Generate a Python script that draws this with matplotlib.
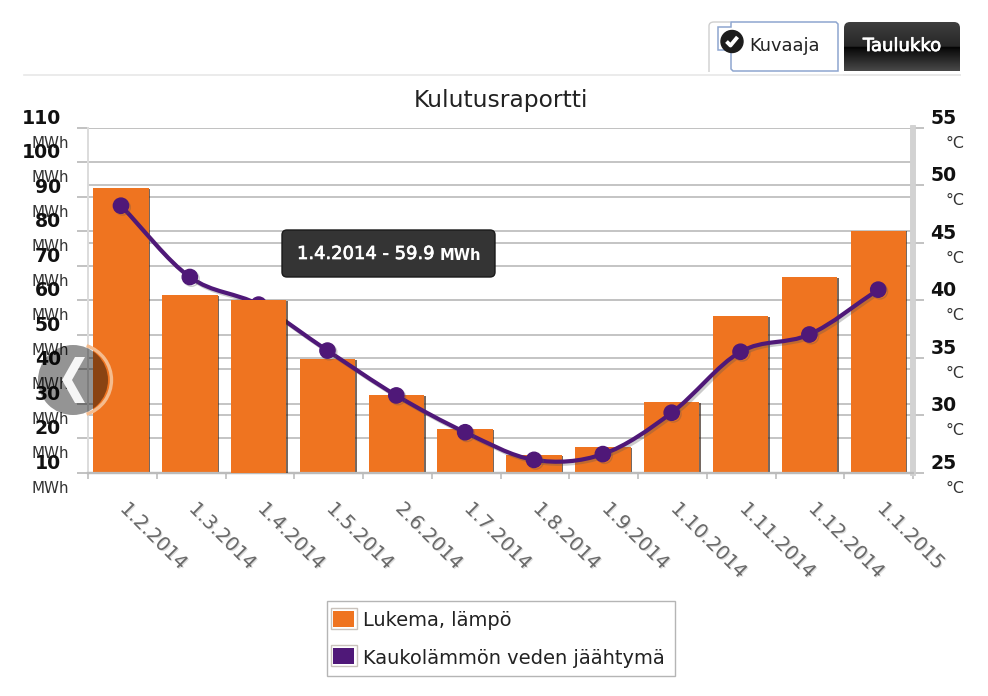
import matplotlib
matplotlib.use('Agg')
import matplotlib.pyplot as plt
import matplotlib.patheffects as pe
import numpy as np
from matplotlib.patches import Arc, Circle, FancyBboxPatch, PathPatch, Polygon, Rectangle
from matplotlib.path import Path

dates = ['1.2.2014', '1.3.2014', '1.4.2014', '1.5.2014', '2.6.2014', '1.7.2014',
         '1.8.2014', '1.9.2014', '1.10.2014', '1.11.2014', '1.12.2014', '1.1.2015']
lukema = [92.4, 61.4, 59.9, 42.9, 32.5, 22.6, 15.1, 17.3, 30.3, 55.4, 66.6, 80.1]
jaahtyma = [48.2, 42.0, 39.6, 35.6, 31.7, 28.5, 26.1, 26.6, 30.2, 35.5, 37.0, 40.9]
left_ticks = [10, 20, 30, 40, 50, 60, 70, 80, 90, 100, 110]
right_ticks = [25, 30, 35, 40, 45, 50, 55]

ORANGE = '#ef7420'
PURPLE = '#4f1878'
GRID = '#c2c2c2'
W, H = 988, 696


def smooth_path(x, y):
    """Bezier through the points, like the smoothed line of the original"""
    x, y = np.asarray(x, float), np.asarray(y, float)
    verts = [(x[0], y[0])]
    codes = [Path.MOVETO]
    dy = np.gradient(y, x)
    for i in range(len(x) - 1):
        h = (x[i + 1] - x[i]) / 3
        verts += [(x[i] + h, y[i] + dy[i] * h), (x[i + 1] - h, y[i + 1] - dy[i + 1] * h), (x[i + 1], y[i + 1])]
        codes += [Path.CURVE4] * 3
    return Path(verts, codes)


fig = plt.figure(figsize=(W / 100, H / 100), dpi=100)
ax = fig.add_axes([88 / W, 1 - 472.5 / H, 825 / W, 345 / H])
ax2 = ax.twinx()
ax.set_xlim(-0.479, 11.505)
ax.set_ylim(10, 110)
ax2.set_ylim(25, 55)
ax.set_zorder(1)
ax2.set_zorder(2)
ax2.patch.set_visible(False)

pos = np.arange(len(dates))
# all marks go on ax2 because the hovered bar covers the line, bars converted from the left scale
bars = ax2.bar(pos, (np.array(lukema) - 10) * 0.3, bottom=25, width=0.805, color=ORANGE, zorder=2)
for b in bars:
    b.set_path_effects([pe.SimplePatchShadow(offset=(1.1, -0.5), shadow_rgbFace='#3a2a20', alpha=0.7), pe.Normal()])
bars[2].set_zorder(4)

line = PathPatch(smooth_path(pos, jaahtyma), fill=False, edgecolor=PURPLE, lw=3, zorder=3, capstyle='round')
line.set_path_effects([pe.SimpleLineShadow(offset=(1.5, -1.5), shadow_color='#555555', alpha=0.3), pe.Normal()])
ax2.add_patch(line)
ax2.plot(pos, jaahtyma, ls='none', marker='o', ms=11, color=PURPLE, mec=PURPLE, zorder=3,
         path_effects=[pe.SimpleLineShadow(offset=(1.2, -1.2), shadow_color='#555555', alpha=0.3), pe.Normal()])

ax.set_yticks(left_ticks)
ax2.set_yticks(right_ticks)
ax.set_xticks(np.linspace(-0.479, 11.505, 13))
ax.set_xticklabels([])
ax.set_yticklabels([])
ax2.set_yticklabels([])
ax.grid(axis='y', color=GRID, lw=1.35, zorder=0)
ax2.grid(axis='y', color=GRID, lw=1.35, zorder=0)
ax.set_axisbelow(True)
ax2.set_axisbelow(True)
ax.tick_params(axis='y', length=8, width=1.3, color='#bdbdbd')
ax.tick_params(axis='x', length=4, width=1.2, color='#bdbdbd')
ax2.tick_params(axis='y', length=8, width=1.3, color='#bdbdbd')
for a in (ax, ax2):
    a.spines['top'].set_visible(False)
    a.spines['left'].set_color('#dcdcdc')
    a.spines['left'].set_linewidth(1.3)
    a.spines['right'].set_color('#d2d2d2')
    a.spines['right'].set_linewidth(4)
    a.spines['bottom'].set_color('#bbbbbb')
    a.spines['bottom'].set_linewidth(1.6)

# tick labels are number over unit in the original
for v in left_ticks:
    ax.annotate(str(v), (0, v), xycoords=('axes fraction', 'data'), xytext=(-19.5, 6.5), textcoords='offset points',
                ha='right', va='center', fontsize=13.6, fontweight='bold', color='#111111', annotation_clip=False, zorder=6)
    ax.annotate('MWh', (0, v), xycoords=('axes fraction', 'data'), xytext=(-13.7, -11.2), textcoords='offset points',
                ha='right', va='center', fontsize=10.9, color='#333333', annotation_clip=False)
for v in right_ticks:
    ax2.annotate(str(v), (1, v), xycoords=('axes fraction', 'data'), xytext=(12.5, 6.5), textcoords='offset points',
                 ha='left', va='center', fontsize=13.6, fontweight='bold', color='#111111', annotation_clip=False)
    ax2.annotate('°C', (1, v), xycoords=('axes fraction', 'data'), xytext=(37, -11.2), textcoords='offset points',
                 ha='right', va='center', fontsize=11.4, color='#333333', annotation_clip=False)

for p, d in zip(pos, dates):
    ax.annotate(d, (p, 0), xycoords=('data', 'axes fraction'), xytext=(6.5, -19), textcoords='offset points',
                ha='left', va='top', rotation=-45, rotation_mode='anchor', fontsize=13.9, color='#6a6a6a',
                annotation_clip=False,
                path_effects=[pe.withSimplePatchShadow(offset=(0.8, -0.8), shadow_rgbFace='#bbbbbb', alpha=0.5)])

# page furniture on top, in pixel coordinates
ui = fig.add_axes([0, 0, 1, 1], zorder=10)
ui.axis('off')

ui.plot([24, 960], [75, 75], color='#e8e8e8', lw=1.2)
ui.text(500.5, 101, 'Kulutusraportti', ha='center', va='center', fontsize=16.8, color='#222222')

# Kuvaaja button
ui.add_patch(PathPatch(Path([(709, 72), (709, 26), (709, 22), (714, 22), (730, 22)],
                            [Path.MOVETO, Path.LINETO, Path.CURVE3, Path.CURVE3, Path.LINETO]),
                       fill=False, edgecolor='#cfcfcf', lw=1))
ui.add_patch(Polygon([(731, 22), (836, 22), (838, 24), (838, 71), (733, 71), (731, 69), (731, 50), (718, 50),
                      (718, 27), (731, 27)], closed=True, facecolor='white', edgecolor='#8ea6cf', lw=1.1))
ui.add_patch(Circle((732, 41.5), 11, color='#1c1c1c'))
ui.plot([726.5, 730.5, 737.5], [41.5, 45.5, 37], color='white', lw=2.8, solid_capstyle='butt')
ui.text(749, 46, 'Kuvaaja', ha='left', va='center', fontsize=12.8, color='#222222')

# Taulukko button, dark gradient clipped to rounded corners
shade = np.array([[0.25 - 0.004 * i] for i in range(24)] + [[0.12], [0.02], [0.03]]
                 + [[0.05 + 0.011 * i] for i in range(22)])
grad = ui.imshow(shade, extent=(844, 960, 71, 22), cmap='gray', vmin=0, vmax=1, aspect='auto',
                 zorder=1, interpolation='bilinear')
clip = FancyBboxPatch((844, 22), 116, 55, boxstyle='round,pad=0,rounding_size=6',
                      facecolor='none', edgecolor='none', transform=ui.transData)
ui.add_patch(clip)
grad.set_clip_path(clip)
ui.plot([844, 960], [75, 75], color='#e8e8e8', lw=1.2, zorder=2)
ui.text(902, 46, 'Taulukko', ha='center', va='center', fontsize=13, color='white', zorder=3,
        path_effects=[pe.withStroke(linewidth=0.5, foreground='white')])

# tooltip
ui.add_patch(FancyBboxPatch((285, 233), 207, 41, boxstyle='round,pad=3,rounding_size=5',
                            facecolor='#343434', edgecolor='#1a1a1a', lw=1))
ui.text(297, 254, '1.4.2014 - 59.9', ha='left', va='center', fontsize=12.9, color='white',
        path_effects=[pe.withStroke(linewidth=0.5, foreground='white')])
ui.text(481, 255, 'MWh', ha='right', va='center', fontsize=10.6, color='white', fontweight='bold')

# prev button
ui.add_patch(Arc((75.5, 380), 72, 72, theta1=-72, theta2=72, edgecolor='#f5bc8e', lw=2.4))
ui.add_patch(Circle((73, 380), 35, facecolor='black', edgecolor='none', alpha=0.42))
ui.add_patch(Polygon([(75, 357), (85, 357), (72, 380), (85, 403), (75, 403), (62, 380)], closed=True,
                     facecolor='#f6f6f6', edgecolor='none'))

# legend
ui.add_patch(Rectangle((326.5, 600.5), 348, 75, facecolor='white', edgecolor='#b5b5b5', lw=1))
for y0, c, label in [(608, ORANGE, 'Lukema, lämpö'), (645, PURPLE, 'Kaukolämmön veden jäähtymä')]:
    ui.add_patch(Rectangle((330.5, y0), 26, 21, facecolor='white', edgecolor='#c9c2bc', lw=1))
    ui.add_patch(Rectangle((333, y0 + 3), 20.5, 15.7, facecolor=c, edgecolor='none'))
    ui.text(363, y0 + 13, label, ha='left', va='center', fontsize=13.95, color='#222222')

ui.set_xlim(0, W)
ui.set_ylim(H, 0)

fig.savefig('out.png', dpi=100)
